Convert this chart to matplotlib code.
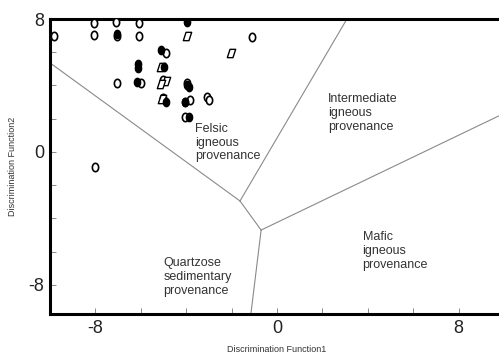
import numpy as np
import matplotlib
matplotlib.use("Agg")
import matplotlib.pyplot as plt
from matplotlib.path import Path

plt.rcParams['font.family'] = ['Liberation Sans', 'DejaVu Sans']

# open circles
open_x = [-8.05, -7.09, -6.07, -9.82, -8.05, -7.03, -6.07, -1.11, -4.89, -7.03,
          -6.0, -5.04, -3.98, -5.01, -3.83, -3.1, -3.0, -4.04, -8.02]
open_y = [7.75, 7.79, 7.75, 7.0, 7.05, 6.95, 6.95, 6.9, 5.98, 4.17,
          4.14, 4.3, 4.14, 3.27, 3.13, 3.33, 3.13, 2.09, -0.9]
# filled circles
fill_x = [-3.98, -7.03, -5.12, -6.14, -6.14, -4.98, -6.15, -3.88, -4.04, -4.9,
          -4.04, -3.86, -3.95]
fill_y = [7.79, 7.1, 6.14, 5.3, 5.05, 5.14, 4.2, 3.9, 3.03, 3.03,
          3.0, 2.13, 4.05]
# parallelograms
para_x = [-3.98, -2.04, -5.12, -4.89, -5.12, -5.08]
para_y = [6.99, 5.98, 5.1, 4.24, 4.1, 3.17]

# field boundaries
junc_a = (-1.63, -2.95)
junc_b = (-0.70, -4.70)
bound_lines = [
    [(-10.0, 5.36), junc_a],
    [junc_a, (3.08, 8.0)],
    [junc_a, junc_b],
    [junc_b, (-1.15, -9.75)],
    [junc_b, (10.2, 2.45)],
]

fields = [
    ("Felsic\nigneous\nprovenance", -3.6, 1.75),
    ("Intermediate\nigneous\nprovenance", 2.25, 3.55),
    ("Mafic\nigneous\nprovenance", 3.77, -4.75),
    ("Quartzose\nsedimentary\nprovenance", -5.0, -6.35),
]

fig = plt.figure(figsize=(4.99, 3.56), dpi=100)
ax = fig.add_axes([50/499, 1-314/356, 454/499, 295/356])

for seg in bound_lines:
    xs, ys = zip(*seg)
    ax.plot(xs, ys, color='#8a8a8a', lw=0.8, zorder=1)

# markers: tall ellipse and slanted parallelogram
t = np.linspace(0, 2*np.pi, 40)
ellipse = Path(np.column_stack([0.75*np.cos(t), np.sin(t)]), closed=True)
para = Path([(-1, -1), (0.35, -1), (1, 1), (-0.35, 1), (-1, -1)], closed=True)

ax.plot(open_x, open_y, ls='none', marker=ellipse, ms=6, mfc='white', mec='black', mew=1.2, zorder=3)
ax.plot(fill_x, fill_y, ls='none', marker=ellipse, ms=6, mfc='black', mec='black', mew=1.0, zorder=4)
ax.plot(para_x, para_y, ls='none', marker=para, ms=6, mfc='white', mec='black', mew=1.0, zorder=3)

for txt, x, y in fields:
    ax.text(x, y, txt, fontsize=9, color='#333333', va='top', ha='left', linespacing=1.2)

ax.set_xlim(-10, 10)
ax.set_ylim(-9.75, 8)

ax.set_xticks(np.arange(-8, 9, 2))
ax.set_xticklabels(['-8', '', '', '', '0', '', '', '', '8'])
ax.set_yticks(np.arange(-8, 9, 2))
ax.set_yticklabels(['-8', '', '', '', '0', '', '', '', '8'])
ax.tick_params(direction='in', length=4, width=0.6, color='#777777', labelsize=13, labelcolor='#222222', pad=4)

for s in ['left', 'top', 'bottom']:
    ax.spines[s].set_linewidth(2.2)
ax.spines['right'].set_visible(False)

ax.set_xlabel('Discrimination Function1', fontsize=6.5, color='#333333', labelpad=6)
ax.set_ylabel('Discrimination Function2', fontsize=6.5, color='#333333', labelpad=8)

fig.savefig('out.png', dpi=100)
